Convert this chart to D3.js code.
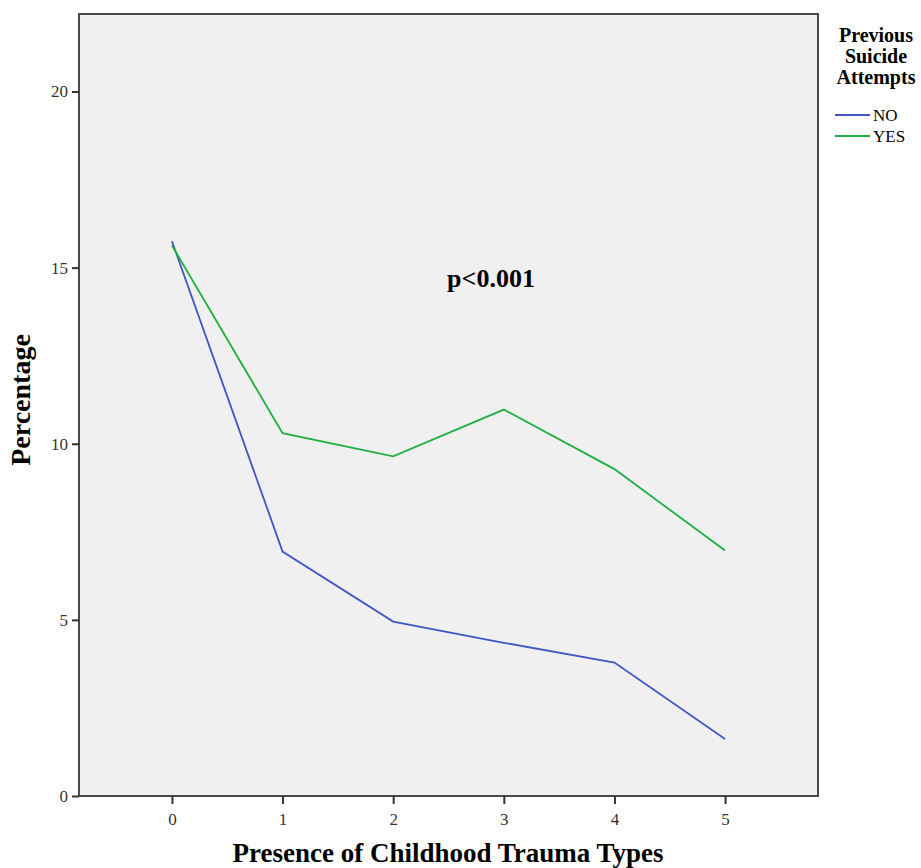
<html>
<head>
  <title>Childhood trauma</title>
  <script src="https://d3js.org/d3.v7.min.js"></script>
  <meta http-equiv="content-type" content="text/html;charset=UTF-8">
  <style>
    body { margin: 0; background: #fff; }
    svg { display: block; font-family: "Liberation Serif", "DejaVu Serif", serif; }
  </style>
</head>
<body>
  <svg id="chart"></svg>
  <script>
    var traumaCounts = [0, 1, 2, 3, 4, 5];
    var noValues = [15.75, 6.94, 4.95, 4.35, 3.79, 1.62];
    var yesValues = [15.63, 10.30, 9.64, 10.97, 9.28, 6.97];
    var yTicks = [0, 5, 10, 15, 20];
    var seriesNames = ["NO", "YES"];
    var seriesColors = ["#4257c4", "#1fb040"];

    var width = 921, height = 868;
    var margin = {top: 14, left: 79, right: 103, bottom: 72};

    var svg = d3.select('#chart')
      .attr('width', width)
      .attr('height', height);

    var x = d3.scaleLinear()
      .domain([-0.84, 5.84])
      .range([margin.left, width - margin.right]);
    var y = d3.scaleLinear()
      .domain([0, 22.2])
      .range([height - margin.bottom, margin.top]);

    svg.append('rect')
      .attr('x', x.range()[0])
      .attr('y', y.range()[1])
      .attr('width', x.range()[1] - x.range()[0])
      .attr('height', y.range()[0] - y.range()[1])
      .attr('fill', '#f0f0f0')
      .attr('stroke', '#4a4a4a')
      .attr('stroke-width', 2);

    var yAxis = svg.append('g')
      .attr('transform', 'translate(' + x.range()[0] + ',0)')
      .call(d3.axisLeft(y).tickValues(yTicks).tickSize(7).tickPadding(4).tickFormat(d3.format('d')));
    var xAxis = svg.append('g')
      .attr('transform', 'translate(0,' + y.range()[0] + ')')
      .call(d3.axisBottom(x).tickValues(traumaCounts).tickSize(8).tickPadding(9).tickFormat(d3.format('d')));
    [xAxis, yAxis].forEach(function (a) {
      a.select('.domain').remove();
      a.selectAll('line').attr('stroke', '#333').attr('stroke-width', 2);
      a.selectAll('text')
        .attr('fill', '#333')
        .style('font-family', '"Liberation Serif", serif')
        .style('font-size', '17px');
    });

    var line = d3.line()
      .x(function (d, i) { return x(traumaCounts[i]); })
      .y(function (d) { return y(d); });

    [noValues, yesValues].forEach(function (values, i) {
      svg.append('path')
        .datum(values)
        .attr('fill', 'none')
        .attr('stroke', seriesColors[i])
        .attr('stroke-width', 1.8)
        .attr('d', line);
    });

    svg.append('text')
      .attr('x', 491)
      .attr('y', 287)
      .attr('text-anchor', 'middle')
      .style('font-weight', 'bold')
      .style('font-size', '26px')
      .text('p<0.001');

    svg.append('text')
      .attr('x', 448)
      .attr('y', 862)
      .attr('text-anchor', 'middle')
      .style('font-weight', 'bold')
      .style('font-size', '27px')
      .text('Presence of Childhood Trauma Types');

    svg.append('text')
      .attr('transform', 'translate(30,400) rotate(-90)')
      .attr('text-anchor', 'middle')
      .style('font-weight', 'bold')
      .style('font-size', '28px')
      .text('Percentage');

    var legendTitle = ['Previous', 'Suicide', 'Attempts'];
    svg.append('g').selectAll('text')
      .data(legendTitle)
      .enter()
      .append('text')
      .attr('x', 876)
      .attr('y', function (d, i) { return 42 + i * 21; })
      .attr('text-anchor', 'middle')
      .style('font-weight', 'bold')
      .style('font-size', '20px')
      .text(function (d) { return d; });

    var items = svg.append('g').selectAll('g')
      .data(seriesNames)
      .enter()
      .append('g')
      .attr('transform', function (d, i) { return 'translate(835,' + (115 + i * 21) + ')'; });
    items.append('line')
      .attr('x1', 0).attr('x2', 35)
      .attr('stroke', function (d, i) { return seriesColors[i]; })
      .attr('stroke-width', 2);
    items.append('text')
      .attr('x', 38)
      .attr('dy', '0.35em')
      .style('font-size', '17px')
      .text(function (d) { return d; });
  </script>
</body>
</html>
